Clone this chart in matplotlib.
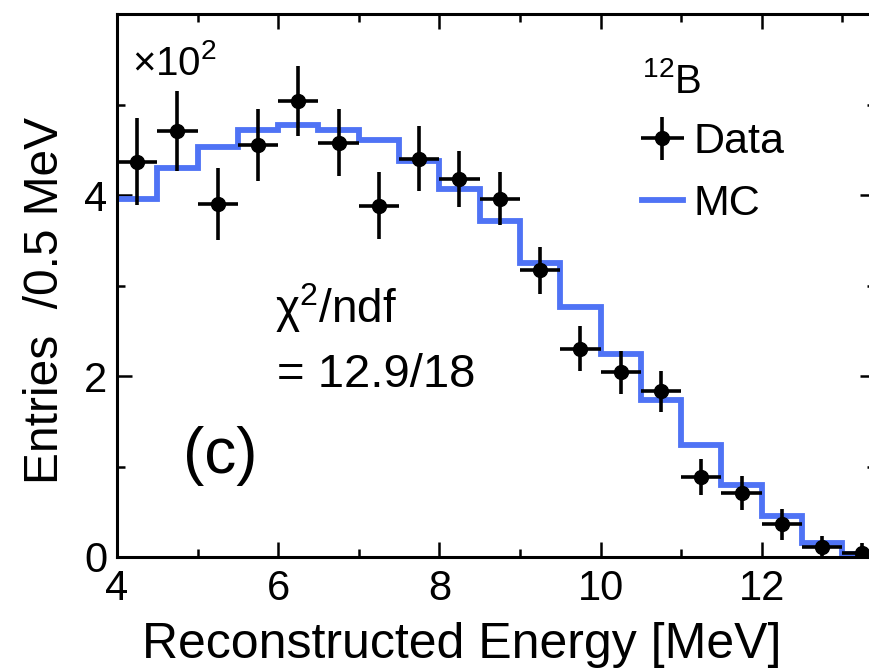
import numpy as np
import matplotlib
matplotlib.use("Agg")
import matplotlib.pyplot as plt
from matplotlib.lines import Line2D

plt.rcParams['font.family'] = ['Liberation Sans', 'DejaVu Sans']
plt.rcParams['mathtext.fontset'] = 'custom'
plt.rcParams['mathtext.rm'] = 'Liberation Sans'
plt.rcParams['mathtext.it'] = 'Liberation Sans:italic'
plt.rcParams['mathtext.default'] = 'regular'

# Daten (Einheit: x10^2 Eintraege pro 0.5 MeV)
bin_edges = np.arange(4.0, 13.51, 0.5)
energy = bin_edges[:-1] + 0.25
data_counts = [4.37, 4.71, 3.90, 4.55, 5.04, 4.58, 3.88, 4.40, 4.18, 3.96,
               3.17, 2.30, 2.04, 1.83, 0.88, 0.71, 0.36, 0.11, 0.04]
data_err = [0.48, 0.44, 0.40, 0.40, 0.39, 0.37, 0.37, 0.36, 0.31, 0.29,
            0.26, 0.25, 0.24, 0.23, 0.20, 0.19, 0.17, 0.12, 0.12]
mc_counts = [3.96, 4.30, 4.53, 4.72, 4.77, 4.72, 4.61, 4.38, 4.07, 3.71,
             3.25, 2.76, 2.24, 1.74, 1.24, 0.80, 0.45, 0.15, 0.03]

blue = '#4f73f5'

fig = plt.figure(figsize=(8.69, 6.71), dpi=100)
ax = fig.add_axes([0.1346, 0.1699, 0.8718, 0.8092])

# MC als Histogramm
ax.stairs(mc_counts, bin_edges, baseline=None, color=blue, lw=4.2, zorder=2)

# Daten mit Fehlerbalken
eb = ax.errorbar(energy, data_counts, yerr=data_err, xerr=0.25, fmt='o',
                 color='black', ms=10, elinewidth=2.6, capsize=0, zorder=3)

ax.set_xlim(4, 13.4)
ax.set_ylim(0, 6)
ax.set_xticks([4, 6, 8, 10, 12])
ax.set_xticks(np.arange(5, 14, 2), minor=True)
ax.set_yticks([0, 2, 4])
ax.set_yticks([1, 3, 5], minor=True)
ax.tick_params(which='both', direction='in', top=True, right=True, width=1.8)
ax.tick_params(which='major', length=11, labelsize=30)
ax.tick_params(which='minor', length=6)
ax.tick_params(axis='x', pad=9)
ax.tick_params(axis='y', pad=7)
for s in ax.spines.values():
    s.set_linewidth(2.2)

ax.set_xlabel('Reconstructed Energy [MeV]', fontsize=36)
ax.xaxis.set_label_coords(0.455, -0.119)
ax.set_ylabel('Entries  /0.5 MeV', fontsize=34.5)
ax.yaxis.set_label_coords(-0.065, 0.473)

# Beschriftungen
ax.text(4.19, 5.33, r'$\times$10$^{2}$', fontsize=29, va='baseline')
ax.text(5.96, 2.59, 'χ$^{2}$/ndf', fontsize=33, va='baseline')
ax.text(5.99, 1.88, '= 12.9/18', fontsize=34, va='baseline')
ax.text(4.82, 0.93, '(c)', fontsize=46, va='baseline')

mc_handle = Line2D([], [], color=blue, lw=4.2)
leg = ax.legend([eb, mc_handle], ['Data', 'MC'], title='$^{12}$B',
                alignment='left', loc='upper left', bbox_to_anchor=(0.693, 0.912),
                frameon=False, borderpad=0, borderaxespad=0, handlelength=0.95,
                handletextpad=0.25, labelspacing=0.5, fontsize=31,
                title_fontsize=29)

fig.savefig('out.png', dpi=100)
